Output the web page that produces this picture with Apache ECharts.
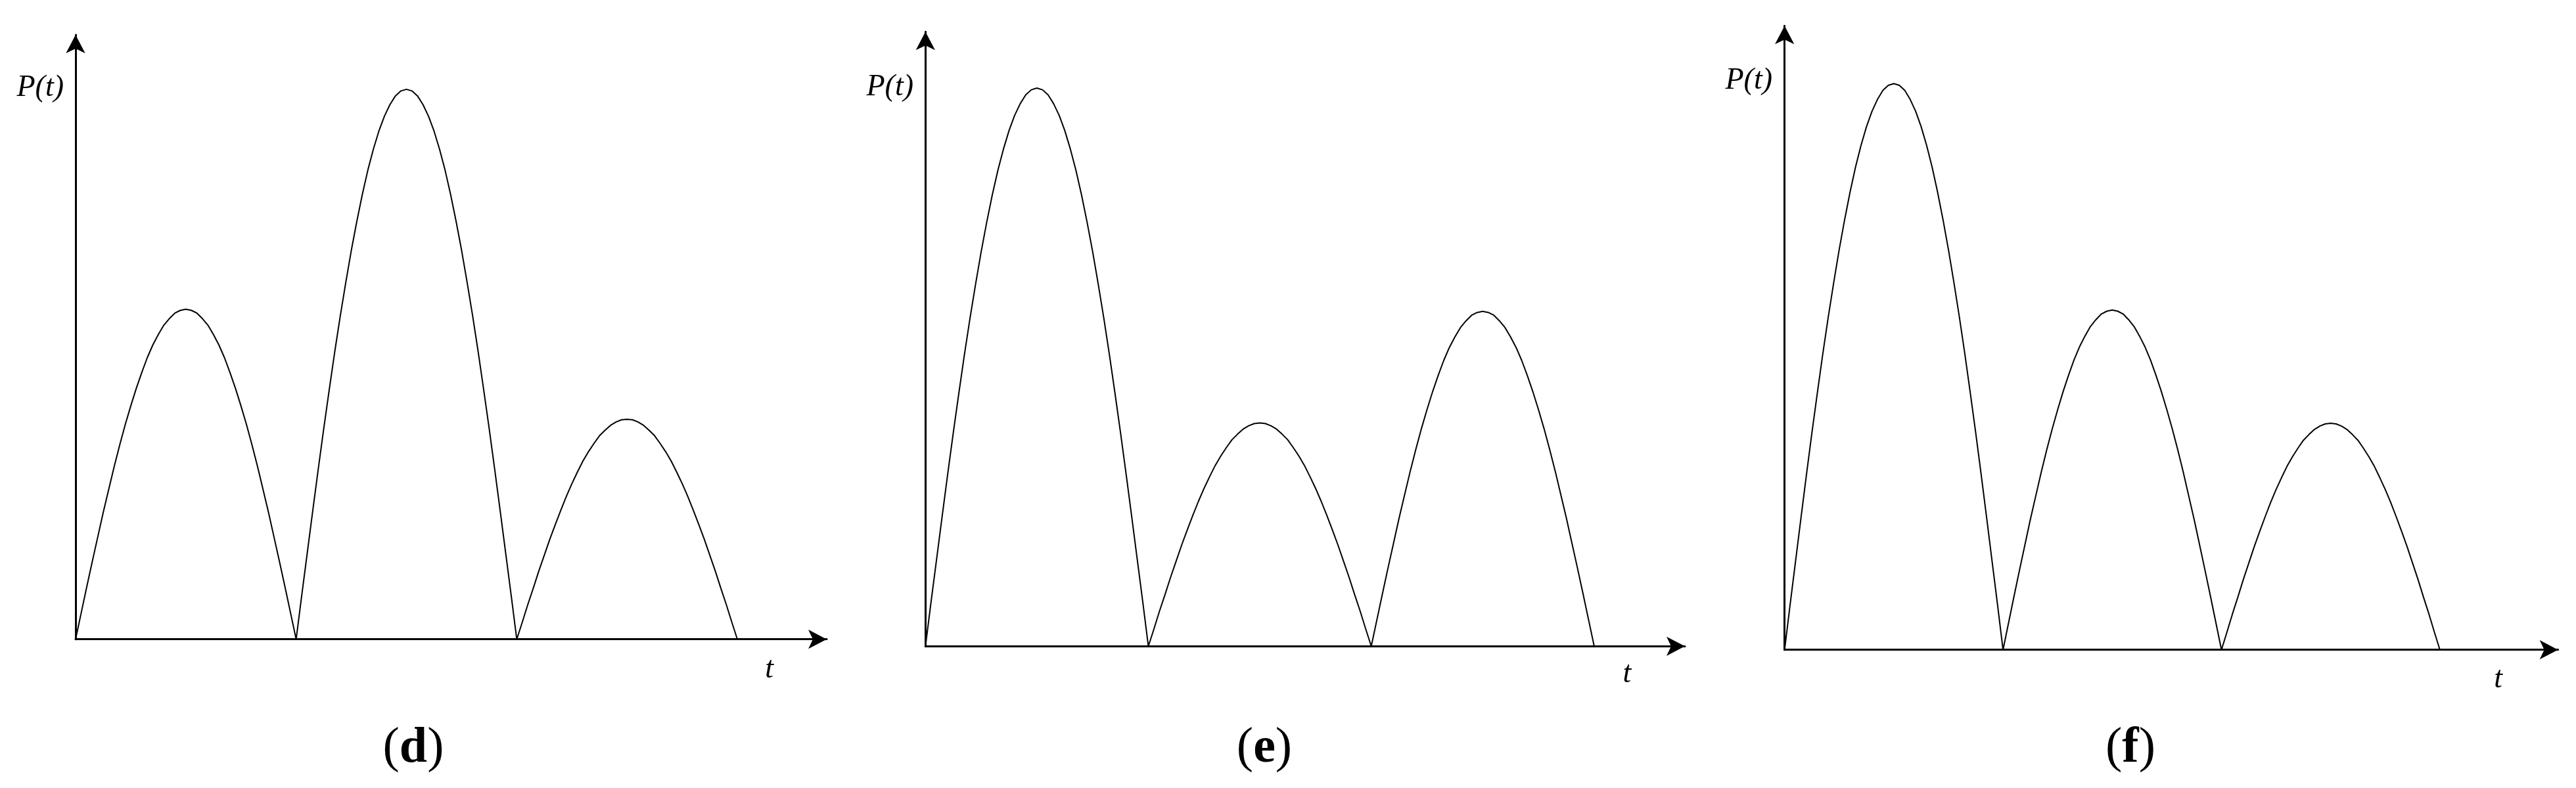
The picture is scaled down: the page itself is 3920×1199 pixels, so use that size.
<!DOCTYPE html>
<html>
<head>
<meta charset="utf-8">
<script src="https://cdn.jsdelivr.net/npm/echarts@6/dist/echarts.min.js"></script>
<style>
html,body{margin:0;padding:0;background:#fff;}
#chart{width:3920px;height:1199px;}
</style>
</head>
<body>
<div id="chart"></div>
<script>
// time axis samples (one hump = 1 unit of t)
const tValues = [
  0,0.025,0.05,0.075,0.1,0.125,0.15,0.175,0.2,0.225,0.25,0.275,0.3,0.325,0.35,0.375,0.4,0.425,0.45,0.475,
  0.5,0.525,0.55,0.575,0.6,0.625,0.65,0.675,0.7,0.725,0.75,0.775,0.8,0.825,0.85,0.875,0.9,0.925,0.95,0.975,
  1,1.025,1.05,1.075,1.1,1.125,1.15,1.175,1.2,1.225,1.25,1.275,1.3,1.325,1.35,1.375,1.4,1.425,1.45,1.475,
  1.5,1.525,1.55,1.575,1.6,1.625,1.65,1.675,1.7,1.725,1.75,1.775,1.8,1.825,1.85,1.875,1.9,1.925,1.95,1.975,
  2,2.025,2.05,2.075,2.1,2.125,2.15,2.175,2.2,2.225,2.25,2.275,2.3,2.325,2.35,2.375,2.4,2.425,2.45,2.475,
  2.5,2.525,2.55,2.575,2.6,2.625,2.65,2.675,2.7,2.725,2.75,2.775,2.8,2.825,2.85,2.875,2.9,2.925,2.95,2.975,3];

// P(t): medium, large, small humps
const pD = [
  0,4.7,9.4,14.0,18.5,23.0,27.2,31.4,35.3,39.0,42.4,45.6,48.5,51.2,53.5,55.4,57.1,58.3,59.3,59.8,
  60,59.8,59.3,58.3,57.1,55.4,53.5,51.2,48.5,45.6,42.4,39.0,35.3,31.4,27.2,23.0,18.5,14.0,9.4,4.7,
  0,7.9,15.6,23.3,30.9,38.3,45.4,52.3,58.8,64.9,70.7,76.0,80.9,85.3,89.1,92.4,95.1,97.2,98.8,99.7,
  100,99.7,98.8,97.2,95.1,92.4,89.1,85.3,80.9,76.0,70.7,64.9,58.8,52.3,45.4,38.3,30.9,23.3,15.6,7.9,
  0,3.1,6.3,9.3,12.4,15.3,18.2,20.9,23.5,26.0,28.3,30.4,32.4,34.1,35.6,37.0,38.0,38.9,39.5,39.9,
  40,39.9,39.5,38.9,38.0,37.0,35.6,34.1,32.4,30.4,28.3,26.0,23.5,20.9,18.2,15.3,12.4,9.3,6.3,3.1,0];
// panel (e): large, small, medium
const pE = [
  0,7.9,15.6,23.3,30.9,38.3,45.4,52.3,58.8,64.9,70.7,76.0,80.9,85.3,89.1,92.4,95.1,97.2,98.8,99.7,
  100,99.7,98.8,97.2,95.1,92.4,89.1,85.3,80.9,76.0,70.7,64.9,58.8,52.3,45.4,38.3,30.9,23.3,15.6,7.9,
  0,3.1,6.3,9.3,12.4,15.3,18.2,20.9,23.5,26.0,28.3,30.4,32.4,34.1,35.6,37.0,38.0,38.9,39.5,39.9,
  40,39.9,39.5,38.9,38.0,37.0,35.6,34.1,32.4,30.4,28.3,26.0,23.5,20.9,18.2,15.3,12.4,9.3,6.3,3.1,
  0,4.7,9.4,14.0,18.5,23.0,27.2,31.4,35.3,39.0,42.4,45.6,48.5,51.2,53.5,55.4,57.1,58.3,59.3,59.8,
  60,59.8,59.3,58.3,57.1,55.4,53.5,51.2,48.5,45.6,42.4,39.0,35.3,31.4,27.2,23.0,18.5,14.0,9.4,4.7,0];
// panel (f): large, medium, small
const pF = [
  0,7.9,15.6,23.3,30.9,38.3,45.4,52.3,58.8,64.9,70.7,76.0,80.9,85.3,89.1,92.4,95.1,97.2,98.8,99.7,
  100,99.7,98.8,97.2,95.1,92.4,89.1,85.3,80.9,76.0,70.7,64.9,58.8,52.3,45.4,38.3,30.9,23.3,15.6,7.9,
  0,4.7,9.4,14.0,18.5,23.0,27.2,31.4,35.3,39.0,42.4,45.6,48.5,51.2,53.5,55.4,57.1,58.3,59.3,59.8,
  60,59.8,59.3,58.3,57.1,55.4,53.5,51.2,48.5,45.6,42.4,39.0,35.3,31.4,27.2,23.0,18.5,14.0,9.4,4.7,
  0,3.1,6.3,9.3,12.4,15.3,18.2,20.9,23.5,26.0,28.3,30.4,32.4,34.1,35.6,37.0,38.0,38.9,39.5,39.9,
  40,39.9,39.5,38.9,38.0,37.0,35.6,34.1,32.4,30.4,28.3,26.0,23.5,20.9,18.2,15.3,12.4,9.3,6.3,3.1,0];

const panelLetters = ['d','e','f'];
const yAxisLabel = 'P(t)';
const xAxisLabel = 't';

const series = [pD, pE, pF];
// layout (pixels) per panel; axis ends at the arrow tip
const grids = [
  {left:115,    top:53,   width:1143,   height:919.7, xMax:3.405, yMax:109.9},
  {left:1408.3, top:48.3, width:1155.7, height:935,   xMax:3.407, yMax:110.1},
  {left:2715.7, top:39.3, width:1177,   height:949.4, xMax:3.541, yMax:110.2}
];
const labelPos = [
  {px:97,   py:134, tx:1170.7, ty:1019, cx:629,  cy:1139},
  {px:1390, py:133, tx:2476,   ty:1026, cx:1924, cy:1139},
  {px:2697, py:123, tx:3801.7, ty:1034, cx:3242, cy:1139}
];

const axisLine = {
  show:true, onZero:false,
  symbol:['none','arrow'], symbolSize:[22,28],
  lineStyle:{color:'#000', width:3}
};

const option = {
  animation:false,
  backgroundColor:'#fff',
  grid: grids.map(g => ({left:g.left, top:g.top, width:g.width, height:g.height, containLabel:false})),
  xAxis: grids.map((g,i) => ({
    type:'value', gridIndex:i, min:0, max:g.xMax,
    axisLine:axisLine, axisTick:{show:false}, axisLabel:{show:false}, splitLine:{show:false}
  })),
  yAxis: grids.map((g,i) => ({
    type:'value', gridIndex:i, min:0, max:g.yMax,
    axisLine:axisLine, axisTick:{show:false}, axisLabel:{show:false}, splitLine:{show:false}
  })),
  series: series.map((p,i) => ({
    type:'line', xAxisIndex:i, yAxisIndex:i,
    data: tValues.map((t,k) => [t, p[k]]),
    showSymbol:false, symbol:'none', smooth:false, clip:false,
    lineStyle:{color:'#000', width:2}
  })),
  graphic: labelPos.flatMap((l,i) => [
    {type:'text', x:l.px, y:l.py, style:{text:yAxisLabel, font:'italic 46px "Liberation Serif"', fill:'#000', align:'right', verticalAlign:'middle'}},
    {type:'text', x:l.tx, y:l.ty, style:{text:xAxisLabel, font:'italic 46px "Liberation Serif"', fill:'#000', align:'center', verticalAlign:'middle'}},
    {type:'text', x:l.cx, y:l.cy, style:{
      text:'{p|(}{b|' + panelLetters[i] + '}{p|)}',
      align:'center', verticalAlign:'middle',
      rich:{
        p:{font:'76px "Liberation Serif"', fill:'#000'},
        b:{font:'bold 76px "Liberation Serif"', fill:'#000'}
      }
    }}
  ])
};

const chart = echarts.init(document.getElementById('chart'), null, {renderer:'canvas'});
chart.setOption(option);
</script>
</body>
</html>
